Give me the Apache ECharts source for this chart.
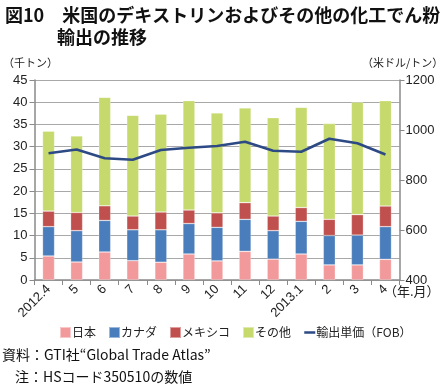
<!DOCTYPE html>
<html><head><meta charset="utf-8">
<script src="https://cdn.jsdelivr.net/npm/echarts@6/dist/echarts.min.js"></script>
<style>html,body{margin:0;padding:0;background:#fff}#c{width:444px;height:389px}</style>
</head><body><div id="c"></div>
<script>
const categories = ['2012.4','5','6','7','8','9','10','11','12','2013.1','2','3','4'];
const japan  = [5.4, 4.05, 6.3, 4.35, 4.0, 5.85, 4.3, 6.45, 4.7, 5.85, 3.4, 3.4, 4.65];
const canada = [6.6, 7.05, 7.1, 6.95, 7.3, 6.85, 7.55, 7.2, 6.4, 7.35, 6.6, 6.7, 7.35];
const mexico = [3.5, 4.1, 3.3, 3.1, 4.0, 3.05, 3.25, 3.75, 3.3, 3.1, 3.65, 4.6, 4.65];
const other  = [18.0, 17.2, 24.4, 22.65, 22.0, 24.6, 22.5, 21.3, 22.1, 22.55, 21.55, 25.3, 23.7];
const unitPrice = [907, 922, 887, 881, 920, 929, 936, 953, 917, 913, 965, 947, 902];
const leftTicks = [0, 45, 5];
const rightTicks = [400, 1200, 200];

const JP = '"Noto Sans CJK JP", sans-serif';
const LAT = '"Liberation Sans", Arial, "Noto Sans CJK JP", sans-serif';
const chart = echarts.init(document.getElementById('c'), null, {renderer:'canvas'});
const barBase = {type:'bar', stack:'s', barWidth:12, itemStyle:{borderColor:'rgba(255,255,255,0.45)', borderWidth:0.6}};
chart.setOption({
  animation:false,
  grid:{left:34.5, right:44.5, top:80, bottom:109},
  legend:{
    left:54, top:321, width:420, itemWidth:11, itemHeight:11, itemGap:12,
    textStyle:{fontFamily:JP, fontSize:12, color:'#222', padding:[0,0,0,-4]},
    data:[
      {name:'日本', icon:'rect'},{name:'カナダ', icon:'rect'},{name:'メキシコ', icon:'rect'},{name:'その他', icon:'rect'},
      {name:'輸出単価（FOB）', itemStyle:{opacity:0}, lineStyle:{width:2.5, color:'#2d4a85'}}
    ]
  },
  xAxis:{type:'category', data:categories, boundaryGap:true,
    axisLine:{lineStyle:{color:'#8a8a8a', width:1.5}},
    axisTick:{show:true, alignWithLabel:false, length:5, lineStyle:{color:'#8a8a8a'}},
    axisLabel:{rotate:45, fontFamily:LAT, fontSize:13, color:'#222', margin:7, interval:0}
  },
  yAxis:[
    {type:'value', min:leftTicks[0], max:leftTicks[1], interval:leftTicks[2], position:'left',
      axisLine:{show:true, lineStyle:{color:'#8a8a8a', width:1.5}},
      axisTick:{show:true, length:5, lineStyle:{color:'#8a8a8a'}},
      axisLabel:{fontFamily:LAT, fontSize:13, color:'#222', margin:7},
      splitLine:{show:true, lineStyle:{color:'#a8a8a8', width:1.2}}
    },
    {type:'value', min:rightTicks[0], max:rightTicks[1], interval:rightTicks[2], position:'right',
      axisLine:{show:true, lineStyle:{color:'#8a8a8a', width:1.5}},
      axisTick:{show:true, length:5, lineStyle:{color:'#8a8a8a'}},
      axisLabel:{fontFamily:LAT, fontSize:13, color:'#222', margin:6, formatter:v=>String(v)},
      splitLine:{show:false}
    }
  ],
  series:[
    Object.assign({}, barBase, {name:'日本', data:japan, color:'#f29a9b'}),
    Object.assign({}, barBase, {name:'カナダ', data:canada, color:'#4a7dbb'}),
    Object.assign({}, barBase, {name:'メキシコ', data:mexico, color:'#c0504e'}),
    Object.assign({}, barBase, {name:'その他', data:other, color:'#c5d96c'}),
    {name:'輸出単価（FOB）', type:'line', yAxisIndex:1, data:unitPrice, color:'#2d4a85',
      symbol:'none', lineStyle:{width:2.5, color:'#2d4a85'}, z:10}
  ],
  graphic:[
    {type:'text', left:5, top:6, style:{text:'図10　米国のデキストリンおよびその他の化工でん粉', font:'bold 18px '+JP, fill:'#111'}},
    {type:'text', left:57, top:28, style:{text:'輸出の推移', font:'bold 18px '+JP, fill:'#111'}},
    {type:'text', left:3, top:57, style:{text:'（千トン）', font:'11px '+JP, fill:'#222'}},
    {type:'text', left:362, top:57, style:{text:'（米ドル/トン）', font:'11px '+JP, fill:'#222'}},
    {type:'text', left:384, top:285, style:{text:'（年.月）', font:'13px '+JP, fill:'#222'}},
    {type:'text', left:2, top:348, style:{text:'資料：GTI社“Global Trade Atlas”', font:'14px '+JP, fill:'#111'}},
    {type:'text', left:15, top:370, style:{text:'注：HSコード350510の数値', font:'14px '+JP, fill:'#111'}}
  ]
});
</script></body></html>
